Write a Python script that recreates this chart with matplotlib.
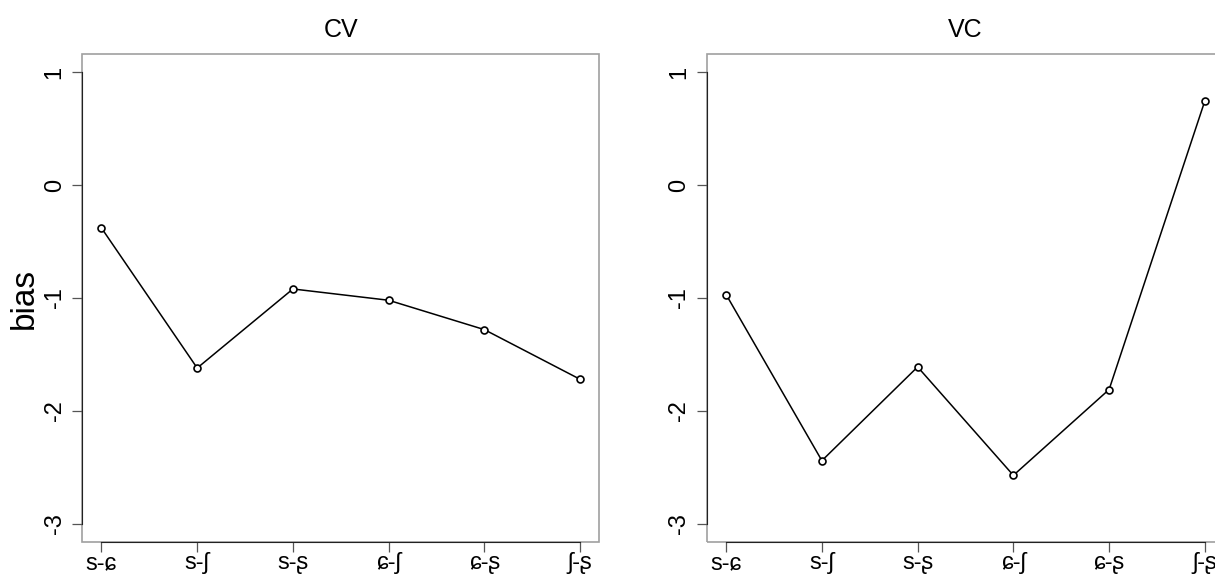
import matplotlib
matplotlib.use('Agg')
import matplotlib.pyplot as plt
from matplotlib.patches import Rectangle

plt.rcParams['font.family'] = ['Liberation Sans', 'DejaVu Sans']

pairs = ['s-ɕ', 's-ʃ', 's-ʂ', 'ɕ-ʃ', 'ɕ-ʂ', 'ʃ-ʂ']
cv_bias = [-0.38, -1.62, -0.92, -1.02, -1.28, -1.72]
vc_bias = [-0.97, -2.44, -1.61, -2.57, -1.81, 0.745]
yticks = [-3, -2, -1, 0, 1]

W, H = 1215.0, 576.0
fig = plt.figure(figsize=(12.15, 5.76), dpi=100)

# panel boxes in pixels (left, bottom spine, width, height)
boxes = [(82.3, 542, 517, 488), (707, 542, 517, 488)]
panels = [('CV', cv_bias), ('VC', vc_bias)]

for (x0, yb, w, h), (title, vals) in zip(boxes, panels):
    ax = fig.add_axes([x0 / W, (H - yb) / H, w / W, h / H])
    xs = list(range(1, len(pairs) + 1))
    ax.plot(xs, vals, '-', color='black', lw=1.1,
            marker='o', ms=5, mfc='white', mec='black', mew=1.2)
    ax.set_xlim(0.8, 6.2)
    ax.set_ylim(-3.16, 1.16)
    ax.set_xticks(xs)
    ax.set_xticklabels(pairs, fontsize=17)
    ax.set_yticks(yticks)
    ax.set_yticklabels([str(t) for t in yticks], fontsize=17,
                       rotation=90, va='center')
    ax.tick_params(direction='out', length=7, width=0.9, color='#555555')
    ax.tick_params(axis='x', pad=0)
    ax.tick_params(axis='y', pad=5)
    for s in ['top', 'right']:
        ax.spines[s].set_visible(False)
    ax.spines['left'].set_bounds(-3, 1)
    ax.spines['bottom'].set_bounds(1, 6)
    ax.spines['left'].set_color('#222222')
    ax.spines['bottom'].set_color('#222222')
    ax.add_patch(Rectangle((0, 0), 1, 1, transform=ax.transAxes, fill=False,
                           edgecolor='#a0a0a0', lw=1.2, zorder=0.5,
                           clip_on=False))
    ax.set_title(title, fontsize=18, pad=12)

fig.text(24 / W, 1 - 298 / H, 'bias', rotation=90, fontsize=24,
         ha='center', va='center')

plt.savefig('out.png', dpi=100)
